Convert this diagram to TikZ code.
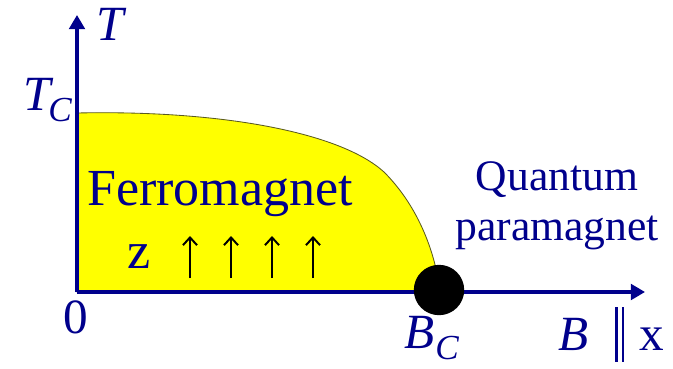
\documentclass[tikz,border=0pt]{standalone}
\usepackage{fontspec}
\setmainfont{Liberation Serif}
\usetikzlibrary{arrows.meta}
\definecolor{axisblue}{RGB}{0,0,140}
\definecolor{fmyellow}{HTML}{FFFF00}
\definecolor{edgeolive}{HTML}{5A5A20}
\newcommand{\lowsub}[1]{\raisebox{-0.24em}{\fontsize{25}{25}\selectfont #1}}
\newcommand{\parbar}{\rule[-0.24em]{0.045em}{1.12em}\kern0.09em\rule[-0.24em]{0.045em}{1.12em}}

\begin{document}
\begin{tikzpicture}[
    lbl/.style={text=axisblue, inner sep=0pt, font=\fontsize{35}{40}\selectfont},
    big/.style={lbl, font=\fontsize{37}{40}\selectfont},
    side/.style={lbl, align=center, font=\fontsize{31}{35.5}\selectfont},
    axis/.style={-{Triangle[length=10pt, width=11pt]}, line width=2.8pt, color=axisblue},
    spin/.style={-{Straight Barb[length=5.5pt, width=10pt]}, line width=1.4pt, color=black},
]
\useasboundingbox (0,0) rectangle (16.825,9.2);

% ---------------------------------------------- axes end points
\coordinate (O)    at (1.925, 1.90);
\coordinate (Ttop) at (1.925, 8.825);
\coordinate (Bend) at (16.125, 1.90);
\coordinate (Tc)   at (1.925, 6.375);
\coordinate (Bc)   at (11.00, 1.90);

% ---------------------------------------------- the ordered phase
\filldraw[fill=fmyellow, draw=edgeolive, line width=0.6pt]
  (O) -- (Tc) .. controls (5.5, 6.45) and (8.5, 5.9) .. (9.6, 4.9)
  .. controls (10.5, 4.0) and (10.9, 2.8) .. (Bc) -- cycle;

\draw[axis] (O) -- (Ttop);
\draw[axis] (O) -- (Bend);

\node[circle, fill=black, minimum size=1.26cm, inner sep=0pt] (qcp) at (10.975, 1.95) {};

% ---------------------------------------------- axis labels
\node[lbl, anchor=center] (tlab) at (2.75, 8.60) {\itshape T};
\node[lbl, anchor=base east] (tclab) at (1.80, 6.45) {\itshape T\kern-0.06em\lowsub{C}};
\node[lbl, anchor=center] (zero) at (1.90, 1.26) {0};
\node[lbl, anchor=base west] (bclab) at (10.10, 0.50) {\itshape B\kern0.02em\lowsub{C}};
\node[lbl, anchor=base west] (blab) at (13.95, 0.45) {\textit{B}\kern0.55em\parbar\kern0.3em x};

% ---------------------------------------------- phase names
\node[big, anchor=base] (ferro) at (5.50, 4.075) {Ferromagnet};
\node[big, anchor=base] (zdir) at (3.475, 2.50) {z};
\foreach \x in {4.75, 5.775, 6.80, 7.825}{
  \draw[spin] (\x, 2.25) -- (\x, 3.30);}
\node[side] (para) at (13.925, 4.05) {Quantum\\ paramagnet};

\end{tikzpicture}
\end{document}
